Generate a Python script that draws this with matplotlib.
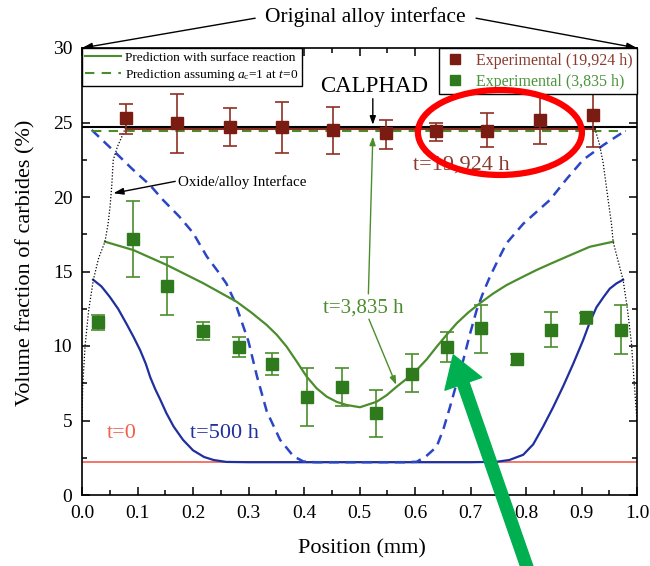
import matplotlib
matplotlib.use("Agg")
import matplotlib.pyplot as plt
from matplotlib.lines import Line2D
from matplotlib.patches import Ellipse
from matplotlib.ticker import MultipleLocator

plt.rcParams['font.family'] = ['Liberation Serif', 'DejaVu Serif']
plt.rcParams['mathtext.fontset'] = 'custom'
plt.rcParams['mathtext.rm'] = 'Liberation Serif'
plt.rcParams['mathtext.it'] = 'Liberation Serif:italic'

# ---------------- data ----------------
x_exp_19924 = [0.079, 0.171, 0.267, 0.360, 0.453, 0.547, 0.638, 0.729, 0.825, 0.921]
y_exp_19924 = [25.3, 25.0, 24.7, 24.7, 24.5, 24.3, 24.45, 24.45, 25.15, 25.5]
top_19924 = [26.25, 26.9, 25.95, 26.4, 26.05, 25.2, 25.0, 25.65, 26.85, 27.2]
bot_19924 = [24.2, 22.95, 23.4, 22.95, 22.9, 23.2, 23.75, 23.35, 23.55, 23.35]

x_exp_3835 = [0.029, 0.091, 0.153, 0.218, 0.282, 0.342, 0.405, 0.469,
              0.530, 0.594, 0.657, 0.719, 0.783, 0.845, 0.908, 0.971]
y_exp_3835 = [11.6, 17.15, 14.05, 11.0, 9.95, 8.8, 6.6, 7.25,
              5.5, 8.15, 9.95, 11.2, 9.1, 11.05, 11.95, 11.05]
top_3835 = [12.05, 19.7, 15.95, 11.6, 10.6, 9.55, 8.5, 8.5,
            7.05, 9.45, 10.95, 12.75, 9.45, 12.25, 12.2, 12.75]
bot_3835 = [11.05, 14.6, 12.05, 10.4, 9.25, 8.05, 4.65, 5.95,
            3.9, 6.9, 8.95, 9.55, 8.75, 9.9, 11.5, 9.45]

# t = 500 h, with surface reaction (blue solid)
x_500 = [0.020, 0.035, 0.050, 0.065, 0.080, 0.093, 0.105, 0.115, 0.123, 0.132,
         0.141, 0.152, 0.165, 0.182, 0.200, 0.220, 0.237, 0.260, 0.300, 0.500,
         0.700, 0.747, 0.770, 0.795, 0.813, 0.831, 0.849, 0.867, 0.885, 0.903,
         0.915, 0.927, 0.940, 0.951, 0.963, 0.975]
y_500 = [14.45, 14.0, 13.3, 12.5, 11.5, 10.6, 9.7, 8.8, 7.9, 7.1,
         6.4, 5.5, 4.6, 3.7, 3.0, 2.55, 2.35, 2.22, 2.2, 2.2,
         2.2, 2.23, 2.35, 2.7, 3.4, 4.6, 5.9, 7.3, 8.8, 10.4,
         11.6, 12.6, 13.3, 13.85, 14.2, 14.45]

# t = 500 h, assuming a_c = 1 (blue dashed)
x_500_ac = [0.0175, 0.040, 0.0625, 0.090, 0.1225, 0.146, 0.175, 0.200, 0.225, 0.245,
            0.260, 0.275, 0.288, 0.300, 0.315, 0.333, 0.357, 0.381, 0.399, 0.420,
            0.500, 0.580, 0.603, 0.620, 0.639, 0.651, 0.663, 0.675, 0.687, 0.699,
            0.711, 0.723, 0.735, 0.750, 0.765, 0.795, 0.843, 0.873, 0.903, 0.940, 0.981]
y_500_ac = [24.5, 23.7, 22.9, 21.9, 20.8, 19.8, 18.7, 17.6, 16.0, 15.0,
            14.2, 13.0, 11.6, 10.3, 8.0, 5.6, 3.7, 2.6, 2.25, 2.2,
            2.2, 2.2, 2.23, 2.6, 3.24, 4.4, 5.9, 7.5, 9.06, 10.8,
            12.4, 13.6, 14.65, 15.8, 16.9, 18.2, 19.8, 21.2, 22.5, 23.5, 24.5]

# t = 3,835 h, with surface reaction (green solid)
x_3835 = [0.0414, 0.0924, 0.1526, 0.2186, 0.2787, 0.3050, 0.3328, 0.3510, 0.3688, 0.3870,
          0.4049, 0.4230, 0.4409, 0.4590, 0.4769, 0.5009, 0.531, 0.549, 0.567, 0.585,
          0.603, 0.621, 0.639, 0.657, 0.675, 0.696, 0.717, 0.740, 0.765, 0.792,
          0.819, 0.846, 0.873, 0.915, 0.957]
y_3835 = [17.0, 16.44, 15.44, 14.21, 12.97, 12.25, 11.41, 10.75, 9.95, 8.95,
          7.94, 7.15, 6.6, 6.25, 6.04, 5.89, 6.26, 6.7, 7.27, 7.8,
          8.39, 9.1, 9.95, 10.75, 11.52, 12.25, 12.87, 13.5, 14.09, 14.6,
          15.1, 15.55, 15.99, 16.66, 17.0]

# t = 3,835 h, assuming a_c = 1 (green dashed)
x_3835_ac = [0.0175, 0.981]
y_3835_ac = [24.45, 24.45]

# t = 19,924 h prediction (dark red)
x_19924 = [0.0787, 0.924]
y_19924 = [24.55, 24.55]

# CALPHAD equilibrium
x_calphad = [0.0, 1.0]
y_calphad = [24.72, 24.72]

# t = 0
x_t0 = [0.0, 1.0]
y_t0 = [2.2, 2.2]

# oxide/alloy interface (dotted)
x_ox_left = [0.0, 0.0013, 0.0054, 0.012, 0.0204, 0.030, 0.0414, 0.047, 0.0505,
             0.0535, 0.0564, 0.064, 0.0744, 0.0787]
y_ox_left = [5.0, 7.3, 9.95, 12.4, 14.43, 15.9, 17.0, 18.2, 19.35,
             20.7, 22.5, 23.4, 24.27, 24.7]
x_ox_right = [0.924, 0.932, 0.939, 0.948, 0.954, 0.957, 0.966, 0.975, 0.983, 0.99, 0.995, 1.0]
y_ox_right = [24.6, 23.6, 22.3, 19.8, 18.2, 17.0, 15.7, 14.43, 12.4, 10.2, 7.5, 5.0]

x_ticks = [0.0, 0.1, 0.2, 0.3, 0.4, 0.5, 0.6, 0.7, 0.8, 0.9, 1.0]
x_ticklabels = ['0.0', '0.1', '0.2', '0.3', '0.4', '0.5', '0.6', '0.7', '0.8', '0.9', '1.0']
y_ticks = [0, 5, 10, 15, 20, 25, 30]
y_ticklabels = ['0', '5', '10', '15', '20', '25', '30']

# ---------------- colours ----------------
c_brown = '#7a1c12'
c_brown_err = '#8e2f24'
c_brown_txt = '#8a3a2e'
c_green = '#2f7a1c'
c_green_line = '#4b8d2c'
c_green_txt = '#4a953a'
c_blue = '#1f2f9e'
c_blue_d = '#2b46c4'
c_red = '#f0604f'

fig = plt.figure(figsize=(6.5, 5.66), dpi=100)
ax = fig.add_axes([82 / 650, (566 - 495) / 566, 555 / 650, 447 / 566])

# lines
ax.plot(x_t0, y_t0, color=c_red, lw=1.2, zorder=2)
ax.plot(x_500, y_500, color=c_blue, lw=1.6, zorder=3)
ax.plot(x_500_ac, y_500_ac, color=c_blue_d, lw=1.8, dashes=(4, 2.6), zorder=3)
ax.plot(x_3835, y_3835, color=c_green_line, lw=1.6, zorder=3)
ax.plot(x_3835_ac, y_3835_ac, color=c_green_line, lw=1.5, dashes=(4.5, 3.5), zorder=3)
ax.plot(x_19924, y_19924, color=c_brown_err, lw=1.5, zorder=3)
ax.plot(x_calphad, y_calphad, color='black', lw=1.5, zorder=4)
ax.plot(x_ox_left, y_ox_left, color='black', lw=0.9, linestyle=(0, (1, 1.5)), zorder=3)
ax.plot(x_ox_right, y_ox_right, color='black', lw=0.9, linestyle=(0, (1, 1.5)), zorder=3)

# experimental points
err19 = [[y - b for y, b in zip(y_exp_19924, bot_19924)],
         [t - y for y, t in zip(y_exp_19924, top_19924)]]
ax.errorbar(x_exp_19924, y_exp_19924, yerr=err19, fmt='s', color=c_brown,
            ecolor=c_brown_err, elinewidth=1.2, capsize=5, capthick=1.2,
            markersize=8, zorder=5)
err38 = [[y - b for y, b in zip(y_exp_3835, bot_3835)],
         [t - y for y, t in zip(y_exp_3835, top_3835)]]
ax.errorbar(x_exp_3835, y_exp_3835, yerr=err38, fmt='s', color=c_green,
            ecolor=c_green_line, elinewidth=1.2, capsize=5, capthick=1.2,
            markersize=8, zorder=5)

# axes
ax.set_xlim(0, 1.0)
ax.set_ylim(0, 30)
ax.set_xticks(x_ticks)
ax.set_xticklabels(x_ticklabels)
ax.set_yticks(y_ticks)
ax.set_yticklabels(y_ticklabels)
ax.xaxis.set_minor_locator(MultipleLocator(0.05))
ax.yaxis.set_minor_locator(MultipleLocator(2.5))
ax.tick_params(which='both', direction='in', top=True, right=True, width=1.1)
ax.tick_params(which='major', length=6, labelsize=14)
ax.tick_params(which='minor', length=3.5)
ax.tick_params(axis='x', which='major', pad=7)
ax.tick_params(axis='y', which='major', pad=7)
for s in ax.spines.values():
    s.set_linewidth(1.2)
ax.set_xlabel('Position (mm)', fontsize=16)
ax.set_ylabel('Volume fraction of carbides (%)', fontsize=16)
ax.xaxis.set_label_coords(0.505, -0.1)
ax.yaxis.set_label_coords(-0.083, 0.52)

# legends
h1 = [Line2D([], [], color=c_green_line, lw=1.5),
      Line2D([], [], color=c_green_line, lw=1.5, dashes=(4.5, 3.5))]
leg1 = ax.legend(h1, ['Prediction with surface reaction',
                      r'Prediction assuming $a_{\rm c}$=1 at $t$=0'],
                 loc='upper left', bbox_to_anchor=(0, 1), borderaxespad=0,
                 fontsize=9.6, handlelength=2.7, handletextpad=0.3,
                 borderpad=0.25, labelspacing=0.25, fancybox=False,
                 edgecolor='black', framealpha=1)
leg1.get_frame().set_linewidth(1.0)
ax.add_artist(leg1)
h2 = [Line2D([], [], marker='s', color=c_brown, ls='none', markersize=7),
      Line2D([], [], marker='s', color=c_green, ls='none', markersize=7)]
leg2 = ax.legend(h2, ['Experimental (19,924 h)', 'Experimental (3,835 h)'],
                 loc='upper right', bbox_to_anchor=(1, 1), borderaxespad=0,
                 fontsize=11.5, handlelength=1.4, handletextpad=0.6,
                 borderpad=0.3, labelspacing=0.3, fancybox=False,
                 edgecolor='black', framealpha=1,
                 labelcolor=[c_brown_txt, c_green_txt])
leg2.get_frame().set_linewidth(1.0)

# annotations
ax.text(0.51, 32.1, 'Original alloy interface', fontsize=15.5, ha='center',
        va='center', clip_on=False)
arr = dict(arrowstyle='-|>,head_length=0.6,head_width=0.2', color='black', lw=1,
           shrinkA=0, shrinkB=0)
ax.annotate('', xy=(0.0, 30.0), xytext=(0.312, 32.0), arrowprops=arr,
            annotation_clip=False)
ax.annotate('', xy=(1.0, 30.0), xytext=(0.71, 32.0), arrowprops=arr,
            annotation_clip=False)

ax.text(0.526, 27.4, 'CALPHAD', fontsize=16.5, ha='center', va='center', zorder=6)
ax.annotate('', xy=(0.524, 24.85), xytext=(0.524, 26.6),
            arrowprops=dict(arrowstyle='-|>,head_length=0.5,head_width=0.18',
                            color='black', lw=1, shrinkA=0, shrinkB=0), zorder=6)

ax.text(0.173, 21.0, 'Oxide/alloy Interface', fontsize=10.8, ha='left', va='center')
ax.annotate('', xy=(0.0565, 20.25), xytext=(0.168, 21.05),
            arrowprops=dict(arrowstyle='-|>,head_length=0.6,head_width=0.2',
                            color='black', lw=1, shrinkA=0, shrinkB=0))

ax.text(0.596, 22.15, 't=19,924 h', fontsize=16, color=c_brown_txt, ha='left', va='center')
ax.text(0.506, 12.55, 't=3,835 h', fontsize=15, color=c_green_line, ha='center', va='center')
garr = dict(arrowstyle='-|>,head_length=0.5,head_width=0.18', color=c_green_line,
            lw=1, shrinkA=0, shrinkB=0)
ax.annotate('', xy=(0.524, 24.05), xytext=(0.516, 13.5), arrowprops=garr)
ax.annotate('', xy=(0.566, 7.4), xytext=(0.517, 11.8), arrowprops=garr)
ax.text(0.195, 4.15, 't=500 h', fontsize=16, color=c_blue, ha='left', va='center')
ax.text(0.045, 4.15, 't=0', fontsize=16, color=c_red, ha='left', va='center')

# highlight ellipse
ax.add_patch(Ellipse((0.753, 24.33), 0.2955, 5.7, angle=0, fill=False,
                     edgecolor='#ff0000', lw=4.5, zorder=7))

# big green arrow
ax.annotate('', xy=(0.669, 9.4), xycoords='data', xytext=(528, -4),
            textcoords='figure pixels',
            arrowprops=dict(arrowstyle='simple,head_length=2.2,head_width=2.8,tail_width=0.85',
                            mutation_scale=10, color='#00b050', shrinkA=0, shrinkB=0),
            zorder=8)

fig.savefig('out.png', dpi=100)
